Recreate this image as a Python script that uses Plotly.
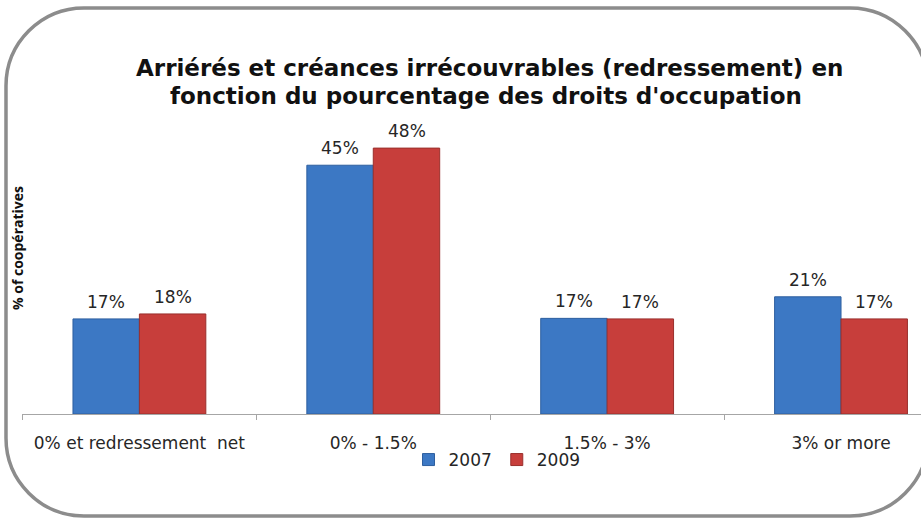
import plotly.graph_objects as go

categories = ["0% et redressement  net", "0% - 1.5%", "1.5% - 3%", "3% or more"]
series_names = ["2007", "2009"]
values_2007 = [17.2, 45.0, 17.3, 21.2]
values_2009 = [18.1, 48.1, 17.2, 17.2]
title_lines = ["Arriérés et créances irrécouvrables (redressement) en",
               "fonction du pourcentage des droits d'occupation"]
y_title = "% of coopératives"

W, H = 921, 518
def X(px):
    return px / W
def Y(py):
    return 1 - py / H

colors = ["#3c78c4", "#c73e3b"]
edges = ["#2e5f9f", "#9a2f2c"]

fig = go.Figure()
for name, vals, c, e in zip(series_names, [values_2007, values_2009], colors, edges):
    fig.add_trace(go.Bar(
        x=categories, y=vals, name=name,
        marker=dict(color=c, line=dict(color=e, width=1)),
    ))

# value labels
bar_px = 66.5
annotations = []
for i, vals in enumerate([values_2007, values_2009]):
    shift = -bar_px / 2 if i == 0 else bar_px / 2
    for cat, v in zip(categories, vals):
        annotations.append(dict(
            x=cat, y=v, xref="x", yref="y", text=f"{v:.0f}%", showarrow=False,
            xshift=shift, yshift=17, yanchor="middle",
            font=dict(family="DejaVu Sans", size=17, color="#262626"),
        ))

# title
annotations.append(dict(x=X(489), y=Y(68), xref="paper", yref="paper", text=title_lines[0],
                        showarrow=False, xanchor="center", yanchor="middle",
                        font=dict(family="DejaVu Sans", size=23, color="#111111", weight="bold")))
annotations.append(dict(x=X(486), y=Y(96), xref="paper", yref="paper", text=title_lines[1],
                        showarrow=False, xanchor="center", yanchor="middle",
                        font=dict(family="DejaVu Sans", size=23, color="#111111", weight="bold")))
# y title
annotations.append(dict(x=X(18), y=Y(248), xref="paper", yref="paper", text=y_title,
                        showarrow=False, xanchor="center", yanchor="middle", textangle=-90,
                        font=dict(family="Open Sans", size=14, color="#111111", weight="bold")))

# rounded frame
L, T, R, B, r = 6, 8, 928, 516, 78
k = 0.5523 * r
def P(px, py):
    return f"{X(px):.5f},{Y(py):.5f}"
path = (f"M {P(L+r, T)} L {P(R-r, T)} C {P(R-r+k, T)} {P(R, T+r-k)} {P(R, T+r)} "
        f"L {P(R, B-r)} C {P(R, B-r+k)} {P(R-r+k, B)} {P(R-r, B)} "
        f"L {P(L+r, B)} C {P(L+r-k, B)} {P(L, B-r+k)} {P(L, B-r)} "
        f"L {P(L, T+r)} C {P(L, T+r-k)} {P(L+r-k, T)} {P(L+r, T)} Z")

fig.update_layout(
    width=W, height=H,
    margin=dict(l=0, r=0, t=0, b=0),
    paper_bgcolor="white", plot_bgcolor="white",
    barmode="group", bargap=0.432, bargroupgap=0,
    showlegend=True,
    legend=dict(orientation="h", x=X(497), xanchor="center", y=Y(460), yanchor="middle",
                font=dict(family="DejaVu Sans", size=17, color="#262626"),
                bgcolor="rgba(0,0,0,0)", itemwidth=30, tracegroupgap=0),
    xaxis=dict(type="category", range=[-0.502, 3.342], domain=[X(22), 1],
               showline=True, linecolor="#a6a6a6", linewidth=1,
               ticks="outside", tickson="boundaries", ticklen=5, tickcolor="#a6a6a6",
               tickfont=dict(family="DejaVu Sans", size=17, color="#262626"),
               ticklabelstandoff=14, automargin=False, showgrid=False, fixedrange=True),
    yaxis=dict(range=[0, 56.8], domain=[Y(414), Y(100)], visible=False,
               showgrid=False, automargin=False, fixedrange=True),
    annotations=annotations,
    shapes=[dict(type="path", path=path, xref="paper", yref="paper",
                 line=dict(color="#8c8c8c", width=3.5), fillcolor="rgba(0,0,0,0)", layer="above")],
)

fig.write_html("out.html", config={"displayModeBar": False},
               post_script="document.body.style.margin='0';document.body.style.overflow='hidden';")
